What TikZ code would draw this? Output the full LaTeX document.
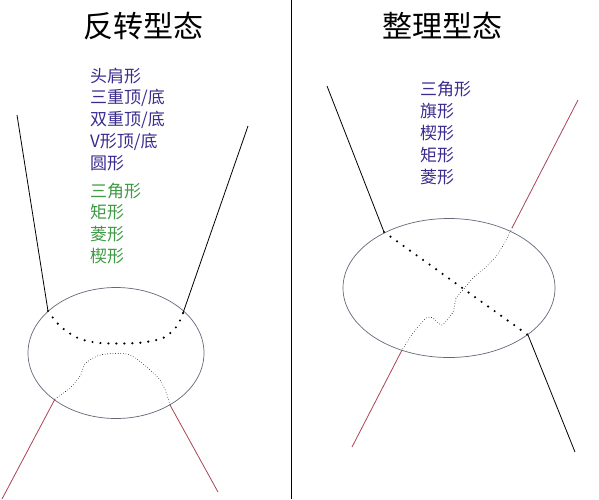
\documentclass[tikz,border=0pt]{standalone}
\usepackage{fontspec}
\setmainfont{Noto Sans CJK SC}
\usetikzlibrary{shapes.geometric}
\definecolor{listblue}{HTML}{3A2C8E}
\definecolor{listgreen}{HTML}{3E9A44}
\definecolor{trendred}{HTML}{A84456}
\definecolor{ovalgray}{HTML}{66667A}

\begin{document}
\begin{tikzpicture}[x=1pt, y=-1pt,
                    title/.style={font=\fontsize{30}{33}\selectfont},
                    item/.style={anchor=west, inner sep=0pt, font=\fontsize{17}{20}\selectfont, text=listblue},
                    greenitem/.style={item, text=listgreen},
                    oval/.style={ellipse, draw=ovalgray, line width=0.7pt, inner sep=0pt},
                    trend/.style={line width=0.8pt},
                    bigdots/.style={line width=2.4pt, line cap=round, dash pattern=on 0pt off 8pt},
                    smalldots/.style={line width=0.8pt, line cap=round, dash pattern=on 0pt off 2.6pt}]

                    \useasboundingbox (0,0) rectangle (599,499);
                    \draw[line width=0.8pt] (291,0) -- (291,499); % divider

                    % Titles
                    \node[title] (revT) at (143,26) {反转型态};
                    \node[title] (conT) at (442,26) {整理型态};

                    % Left list
                    \node[item] (h1) at (90,76) {头肩形};
                    \node[item] (h2) at (90,98) {三重顶/底};
                    \node[item] (h3) at (90,120) {双重顶/底};
                    \node[item] (h4) at (90,142) {V形顶/底};
                    \node[item] (h5) at (90,163) {圆形};
                    \node[greenitem] (g1) at (90,191) {三角形};
                    \node[greenitem] (g2) at (90,212) {矩形};
                    \node[greenitem] (g3) at (90,234) {菱形};
                    \node[greenitem] (g4) at (90,256) {楔形};

                    % Right list
                    \node[item] (c1) at (420,89) {三角形};
                    \node[item] (c2) at (420,111) {旗形};
                    \node[item] (c3) at (420,133) {楔形};
                    \node[item] (c4) at (420,155) {矩形};
                    \node[item] (c5) at (420,177) {菱形};

                    % Ovals
                    \node[oval, minimum width=176, minimum height=131] (ovalL) at (116,353) {};
                    \node[oval, minimum width=212, minimum height=139] (ovalR) at (449,288) {};

                    % Left pattern
                    \coordinate (la) at (17,115);  \coordinate (lb) at (48,311);
                    \coordinate (ra) at (248,126); \coordinate (rb) at (183,313);
                    \coordinate (lc) at (55,399);  \coordinate (ld) at (2,499);
                    \coordinate (rc) at (170,405); \coordinate (rd) at (218,492);
                    \draw[trend] (la) -- (lb);
                    \draw[trend] (ra) -- (rb);
                    \draw[trend, trendred] (lc) -- (ld);
                    \draw[trend, trendred] (rc) -- (rd);
                    \draw[bigdots] plot[smooth] coordinates {(lb) (60,326) (78,338) (100,343) (137,343) (163,338) (177,326) (rb)};
                    \draw[smalldots] plot[smooth] coordinates {(lc) (70,388) (80,376) (85,364) (95,357) (106,354) (127,354) (138,360) (150,370) (160,380) (166,392) (rc)};

                    % Right pattern
                    \coordinate (ta) at (327,86);  \coordinate (tb) at (384,232);
                    \coordinate (tc) at (528,335); \coordinate (td) at (575,452);
                    \coordinate (ua) at (578,100); \coordinate (ub) at (512,228);
                    \coordinate (uc) at (402,350); \coordinate (ud) at (352,447);
                    \draw[trend] (ta) -- (tb);
                    \draw[trend] (tc) -- (td);
                    \draw[trend, trendred] (ua) -- (ub);
                    \draw[trend, trendred] (uc) -- (ud);
                    \draw[bigdots] (tb) -- (tc);
                    \draw[smalldots] plot[smooth, tension=0.4] coordinates {(ub) (505,242) (497,255) (487,266) (473,278) (463,290) (456,298) (453,312) (442,325) (433,318) (426,318) (413,333) (uc)};
                \end{tikzpicture}
\end{document}
